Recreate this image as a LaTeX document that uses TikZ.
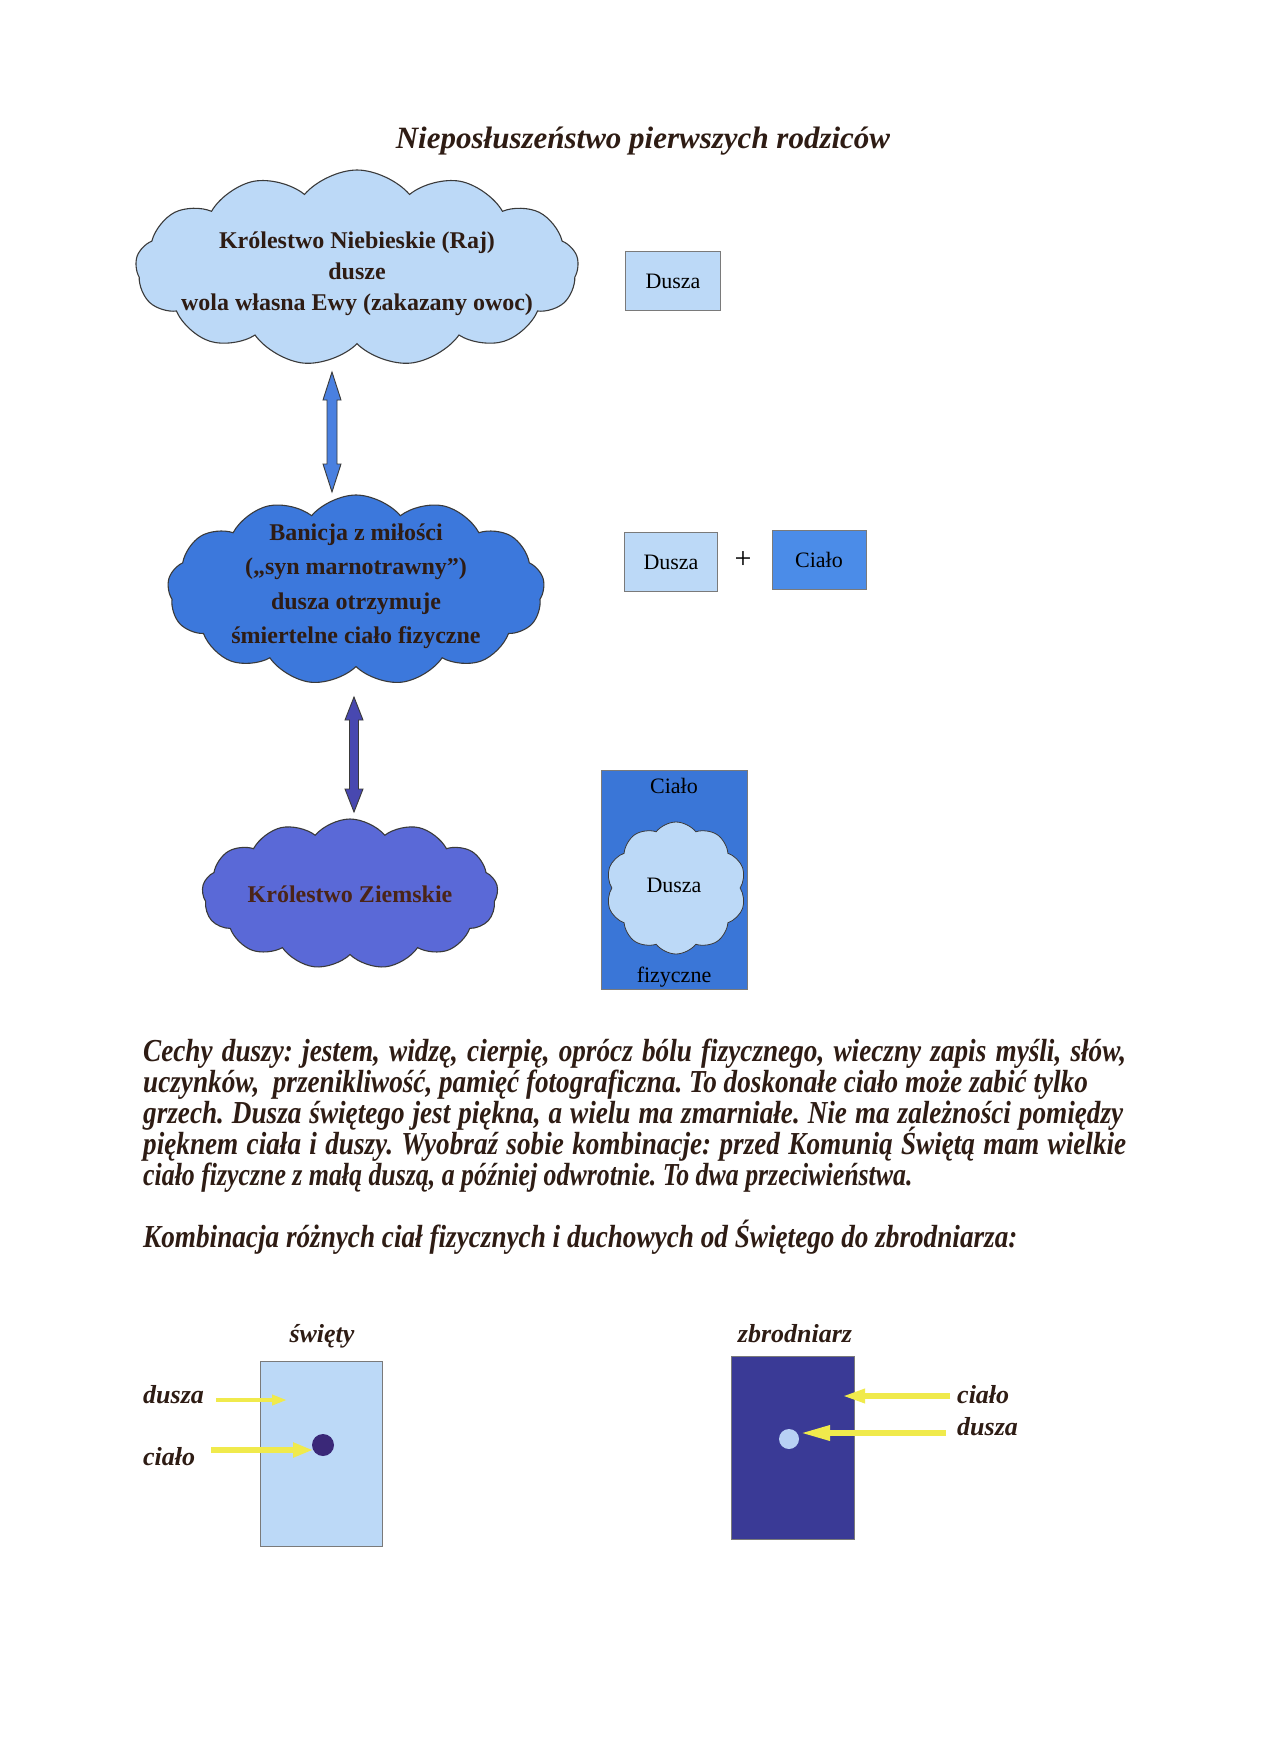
\documentclass[tikz,border=0pt]{standalone}
\usepackage{fontspec}
\setmainfont{Liberation Serif}
\newfontfamily\condfont[FakeStretch=0.85]{Liberation Serif}
\usetikzlibrary{shapes.symbols,calc,arrows.meta}
\definecolor{inkbrown}{HTML}{2E1C14}
\definecolor{earthink}{HTML}{4A2418}
\definecolor{skyfill}{HTML}{BCD9F7}
\definecolor{midfill}{HTML}{3C78DC}
\definecolor{cialofill}{HTML}{4B8CE8}
\definecolor{bodyfill}{HTML}{3A76D7}
\definecolor{earthfill}{HTML}{5A69D7}
\definecolor{arrowonefill}{HTML}{4A80E0}
\definecolor{arrowtwofill}{HTML}{4848B0}
\definecolor{navyfill}{HTML}{3A3A96}
\definecolor{dotdark}{HTML}{3A2878}
\definecolor{dotlight}{HTML}{B8D0F4}
\definecolor{yellowarr}{HTML}{F0EA4C}
\definecolor{boxline}{HTML}{7A7A7A}
\definecolor{cloudline}{HTML}{3A3A3A}
\frenchspacing
\begin{document}
\begin{tikzpicture}[x=1pt,y=-1pt,
  cloudbox/.style={cloud, cloud puffs=13, cloud puff arc=100, cloud ignores aspect,
    draw=cloudline, line width=1.1pt, inner sep=0pt},
  cloudtext/.style={inner sep=0pt, align=center, text=inkbrown,
    font=\fontsize{24}{31}\selectfont\bfseries},
  plainbox/.style={rectangle, draw=boxline, line width=0.9pt, inner sep=0pt,
    font=\fontsize{22}{26}\selectfont, text=black},
  bodyline/.style={anchor=base west, inner sep=0pt, text=inkbrown,
    font=\fontsize{32}{31}\condfont\bfseries\itshape},
  smalllabel/.style={anchor=base west, inner sep=0pt, text=inkbrown,
    font=\fontsize{26}{30}\selectfont\bfseries\itshape},
  bigarrow/.style={draw=cloudline, line width=0.9pt, line join=miter},
  yarrow/.style={draw=yellowarr, line width=#1},
]
\useasboundingbox (0,0) rectangle (1280,1760);
\fill[white] (0,0) rectangle (1280,1760);

% title
\node[anchor=base, inner sep=0pt, text=inkbrown, font=\fontsize{31}{36}\selectfont\bfseries\itshape]
  (title) at (643,149) {Nieposłuszeństwo pierwszych rodziców};

% clouds
\node[cloudbox, fill=skyfill, minimum width=443, minimum height=196] (raj) at (357,268) {};
\node[cloudtext] (rajtext) at (357,274)
  {Królestwo Niebieskie (Raj)\\dusze\\wola własna Ewy (zakazany owoc)};
\node[cloudbox, fill=midfill, minimum width=377, minimum height=190] (banicja) at (356,590) {};
\node[cloudtext, font=\fontsize{24}{34.5}\selectfont\bfseries] (banicjatext) at (356,586)
  {Banicja z miłości\\(„syn marnotrawny”)\\dusza otrzymuje\\śmiertelne ciało fizyczne};
\node[cloudbox, fill=earthfill, minimum width=296, minimum height=150] (ziemia) at (350,894) {};
\node[cloudtext, text=earthink] (ziemiatext) at (350,894) {Królestwo Ziemskie};

% double arrows
\coordinate (a1t) at (332,372);
\coordinate (a1b) at (332,492);
\filldraw[bigarrow, fill=arrowonefill] (a1t) -- ($(a1t)+(9,28)$) -- ($(a1t)+(5,28)$) -- ($(a1b)+(5,-28)$)
  -- ($(a1b)+(9,-28)$) -- (a1b) -- ($(a1b)+(-9,-28)$) -- ($(a1b)+(-5,-28)$) -- ($(a1t)+(-5,28)$)
  -- ($(a1t)+(-9,28)$) -- cycle;
\coordinate (a2t) at (354,697);
\coordinate (a2b) at (354,812);
\filldraw[bigarrow, fill=arrowtwofill] (a2t) -- ($(a2t)+(9,23)$) -- ($(a2t)+(4.5,23)$) -- ($(a2b)+(4.5,-23)$)
  -- ($(a2b)+(9,-23)$) -- (a2b) -- ($(a2b)+(-9,-23)$) -- ($(a2b)+(-4.5,-23)$) -- ($(a2t)+(-4.5,23)$)
  -- ($(a2t)+(-9,23)$) -- cycle;

% right column boxes
\node[plainbox, fill=skyfill, minimum width=95, minimum height=59] (dusza1) at (673,281) {Dusza};
\node[plainbox, fill=skyfill, minimum width=93, minimum height=59] (dusza2) at (671,562) {Dusza};
\node[inner sep=0pt, font=\fontsize{30}{30}\selectfont] (plus) at (743,560) {+};
\node[plainbox, fill=cialofill, minimum width=94, minimum height=59] (cialo1) at (819,560) {Ciało};

\node[plainbox, fill=bodyfill, minimum width=146, minimum height=219] (cialobox) at (674,879.5) {};
\node[cloud, cloud puffs=10, cloud puff arc=105, cloud ignores aspect, draw=cloudline, line width=0.8pt,
  fill=skyfill, minimum width=140, minimum height=132, inner sep=0pt] (innercloud) at (676,888) {};
\node[anchor=base, inner sep=0pt, font=\fontsize{22}{26}\selectfont] (cialolab) at (674,793) {Ciało};
\node[anchor=base, inner sep=0pt, font=\fontsize{22}{26}\selectfont] (duszalab) at (674,892) {Dusza};
\node[anchor=base, inner sep=0pt, font=\fontsize{22}{26}\selectfont] (fizlab) at (674,982) {fizyczne};

% body text
\node[bodyline] (l1) at (143,1061) {\makebox[983pt][s]{Cechy duszy: jestem, widzę, cierpię, oprócz bólu fizycznego, wieczny zapis myśli, słów,}};
\node[bodyline] (l2) at (143,1092) {uczynków,\ \ przenikliwość, pamięć fotograficzna. To doskonałe ciało może zabić tylko};
\node[bodyline] (l3) at (143,1123) {\makebox[980pt][s]{grzech. Dusza świętego jest piękna, a wielu ma zmarniałe. Nie ma zależności pomiędzy}};
\node[bodyline] (l4) at (143,1154) {\makebox[983pt][s]{pięknem ciała i duszy. Wyobraź sobie kombinacje: przed Komunią Świętą mam wielkie}};
\node[bodyline] (l5) at (143,1185) {\scalebox{0.95}[1]{ciało fizyczne z małą duszą, a później odwrotnie. To dwa przeciwieństwa.}};
\node[bodyline] (l6) at (143,1247) {Kombinacja różnych ciał fizycznych i duchowych od Świętego do zbrodniarza:};

% saint
\node[smalllabel, anchor=base] (swlab) at (322,1342) {święty};
\node[plainbox, fill=skyfill, minimum width=122, minimum height=185] (swbox) at (321,1453.5) {};
\fill[dotdark] (323,1445) circle (11) coordinate (swdot);
\node[smalllabel] (swdusza) at (143,1403) {dusza};
\node[smalllabel] (swcialo) at (143,1465) {ciało};
\coordinate (swd1) at (216,1400);
\coordinate (swd2) at (287,1400);
\coordinate (swc1) at (211,1450);
\coordinate (swc2) at (313,1450);
\draw[yarrow=4pt, -{Triangle[length=15pt,width=10pt]}] (swd1) -- (swd2);
\draw[yarrow=6pt, -{Triangle[length=20pt,width=14pt]}] (swc1) -- (swc2);

% criminal
\node[smalllabel, anchor=base] (zblab) at (795,1342) {zbrodniarz};
\node[plainbox, fill=navyfill, minimum width=123, minimum height=183] (zbbox) at (792.5,1447.5) {};
\fill[dotlight] (789,1439) circle (10) coordinate (zbdot);
\node[smalllabel] (zbcialo) at (957,1403) {ciało};
\node[smalllabel] (zbdusza) at (957,1435) {dusza};
\coordinate (zbc1) at (950,1396);
\coordinate (zbc2) at (842,1396);
\coordinate (zbd1) at (946,1433);
\coordinate (zbd2) at (800,1433);
\draw[yarrow=6pt, -{Triangle[length=23pt,width=13pt]}] (zbc1) -- (zbc2);
\draw[yarrow=6pt, -{Triangle[length=30pt,width=14pt]}] (zbd1) -- (zbd2);
\end{tikzpicture}
\end{document}
